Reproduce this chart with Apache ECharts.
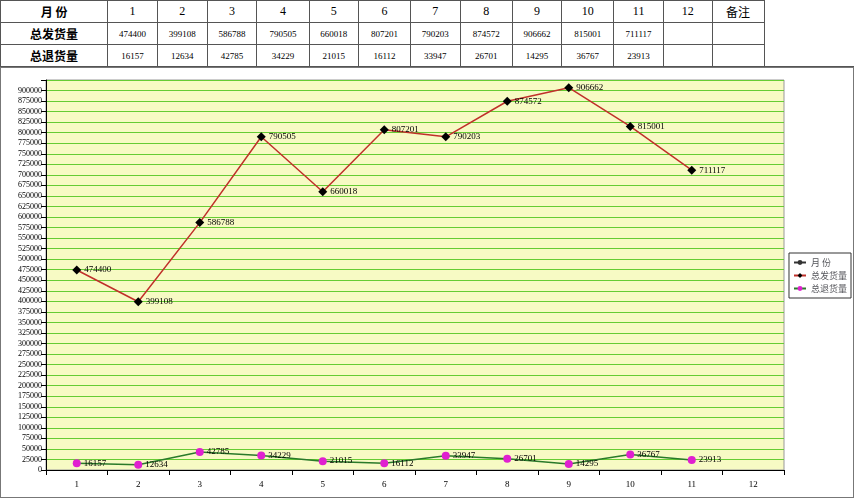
<!DOCTYPE html>
<html>
<head>
<meta charset="UTF-8">
<script src="https://cdn.jsdelivr.net/npm/echarts@6/dist/echarts.min.js"></script>
<style>
body { margin:0; width:854px; height:500px; background:#fff; font-family:"Liberation Serif","Noto Sans CJK SC",serif; }
#tbl { position:absolute; left:0; top:0; border-collapse:collapse; }
#tbl td { border:1px solid #555; height:21px; text-align:center; font-size:9px; padding:0; }
#tbl td.h { font-family:"Noto Sans CJK SC"; font-weight:bold; font-size:12px; }
#chart { position:absolute; left:0; top:67px; width:854px; height:431px; border:1px solid #777; box-sizing:border-box; }
</style>
</head>
<body>
<table id="tbl"></table>
<div id="chart"></div>
<script>
const months = ['1','2','3','4','5','6','7','8','9','10','11','12'];
const shipped = [474400, 399108, 586788, 790505, 660018, 807201, 790203, 874572, 906662, 815001, 711117];
const returned = [16157, 12634, 42785, 34229, 21015, 16112, 33947, 26701, 14295, 36767, 23913];
const rowNames = ['月 份', '总发货量', '总退货量'];

// table above the chart
const widths = [109, 49, 50, 49, 52, 49, 52, 49, 52, 49, 52, 49, 49, 52, 92];
const tbl = document.getElementById('tbl');
const rows = [months.concat(['备注', '']), shipped.map(String), returned.map(String)];
rows.forEach((r, i) => {
  const tr = document.createElement('tr');
  let html = '<td class="h" style="width:' + widths[0] + 'px">' + rowNames[i] + '</td>';
  for (let j = 0; j < 14; j++) {
    const v = r[j] !== undefined ? r[j] : '';
    const fs = i === 0 ? 'font-size:12px;' : '';
    const st = j === 13 ? 'border:none;border-bottom:' + (i === 2 ? '1px solid #555' : 'none') + ';' : '';
    html += '<td style="width:' + widths[j + 1] + 'px;' + fs + st + '">' + v + '</td>';
  }
  tr.innerHTML = html;
  tbl.appendChild(tr);
});

const labelStyle = { show: true, position: 'right', distance: 3, fontSize: 9, color: '#000', fontFamily: 'Liberation Serif' };
echarts.init(document.getElementById('chart')).setOption({
  animation: false,
  grid: { left: 45, right: 69, top: 12, bottom: 27, backgroundColor: '#f7fac4', show: true, borderColor: '#999', borderWidth: 1 },
  legend: {
    orient: 'vertical', right: 2, top: 185, itemWidth: 12, itemHeight: 6, itemGap: 4,
    borderColor: '#333', borderWidth: 1, padding: [5, 4],
    textStyle: { fontSize: 9, fontFamily: 'Noto Sans CJK SC' },
    data: ['月 份', '总发货量', '总退货量']
  },
  xAxis: {
    type: 'category', data: months, boundaryGap: true,
    axisLine: { lineStyle: { color: '#000' } }, axisTick: { show: true, interval: 0, lineStyle: { color: '#000' } },
    axisLabel: { fontSize: 9, color: '#000', margin: 10, fontFamily: 'Liberation Serif' }
  },
  yAxis: {
    type: 'value', min: 0, max: 925000, interval: 25000,
    axisLine: { show: true, lineStyle: { color: '#000' } }, axisTick: { show: true, lineStyle: { color: '#000' } },
    splitLine: { lineStyle: { color: '#6c3', width: 1 } },
    axisLabel: { fontSize: 8, color: '#000', margin: 4, fontFamily: 'Liberation Serif',
      formatter: v => (v > 900000 ? '' : String(v)) }
  },
  series: [
    { name: '月 份', type: 'line', data: [], itemStyle: { color: '#333' }, lineStyle: { color: '#333' }, symbol: 'none' },
    { name: '总发货量', type: 'line', data: shipped, symbol: 'diamond', symbolSize: 9,
      itemStyle: { color: '#000' }, lineStyle: { color: '#c0302a', width: 1.5 }, label: labelStyle },
    { name: '总退货量', type: 'line', data: returned, symbol: 'circle', symbolSize: 8,
      itemStyle: { color: '#e020d0' }, lineStyle: { color: '#2a7a2a', width: 1.5 }, label: labelStyle }
  ]
});
</script>
</body>
</html>
